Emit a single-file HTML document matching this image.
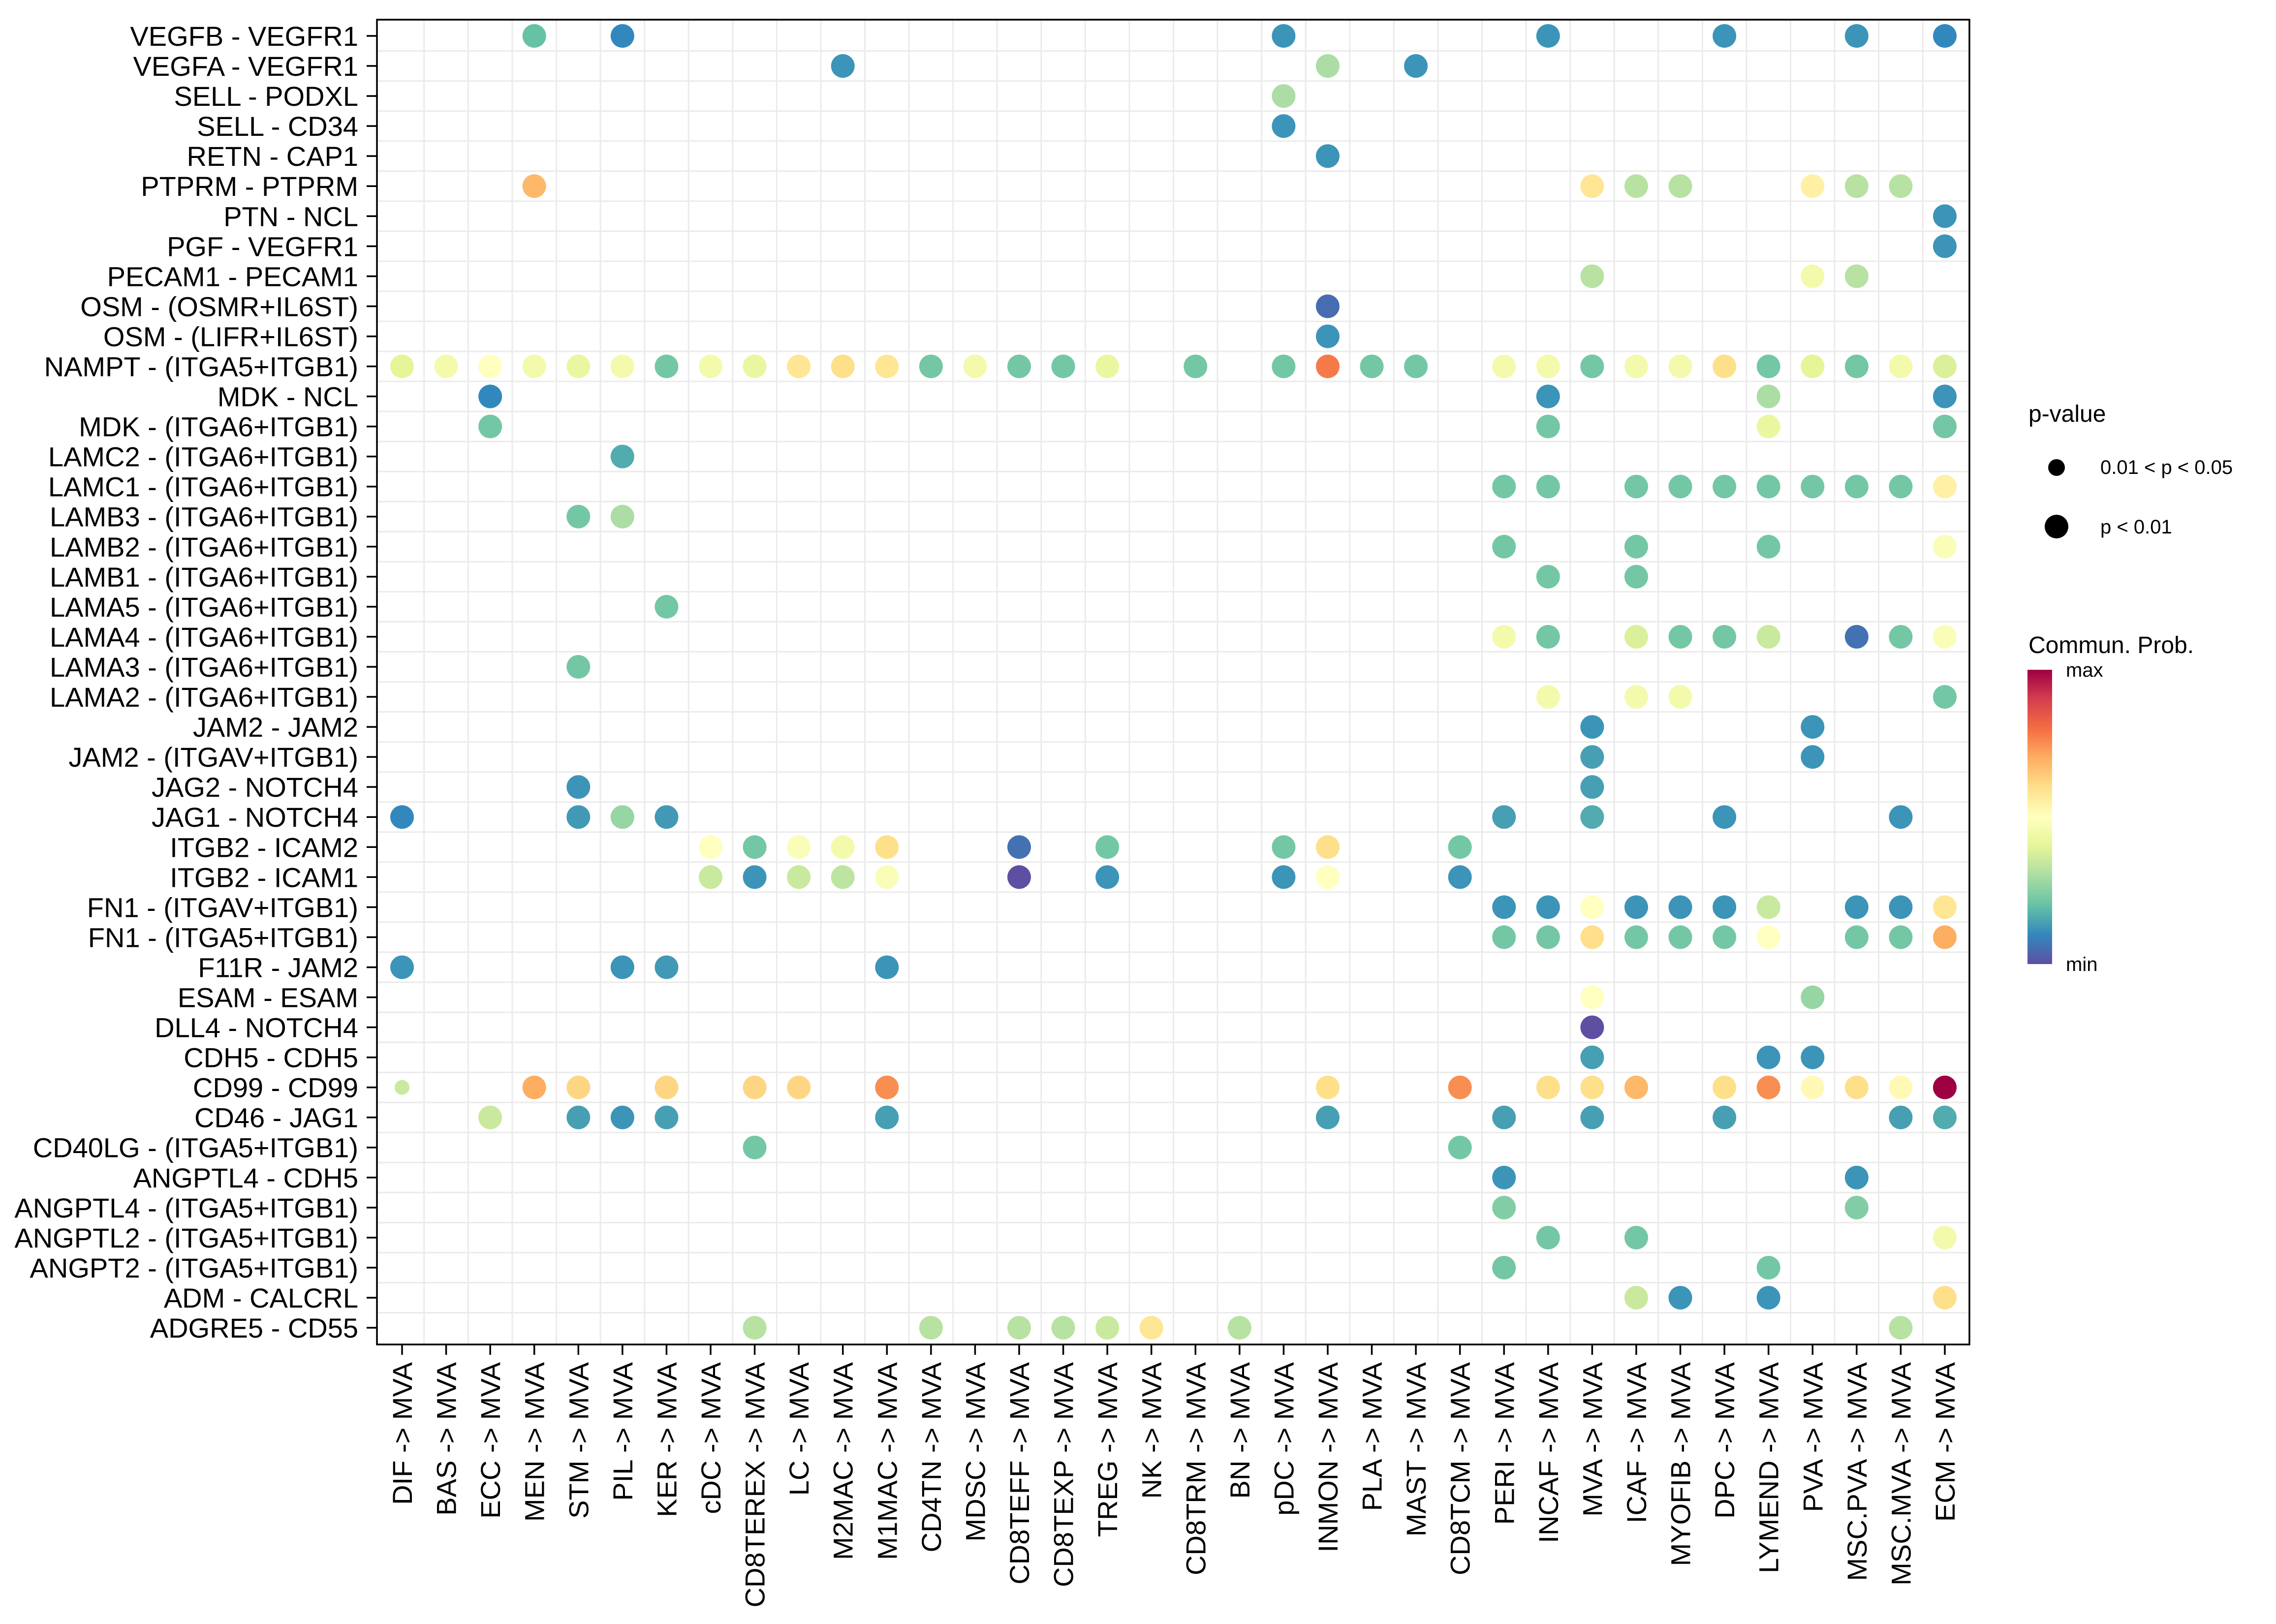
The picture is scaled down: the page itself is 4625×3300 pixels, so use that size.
<!DOCTYPE html>
<html><head><meta charset="utf-8"><style>
html,body{margin:0;padding:0;background:#fff;}
svg{display:block;font-family:"Liberation Sans",sans-serif;}
</style></head><body>
<svg id="chart" width="4625" height="3300" viewBox="0 0 4625 3300" xmlns="http://www.w3.org/2000/svg">
<defs><linearGradient id="cb" x1="0" y1="1" x2="0" y2="0">
<stop offset="0" stop-color="#5e4fa2"/><stop offset="0.1" stop-color="#3288bd"/><stop offset="0.2" stop-color="#66c2a5"/><stop offset="0.3" stop-color="#abdda4"/><stop offset="0.4" stop-color="#e6f598"/><stop offset="0.5" stop-color="#ffffbf"/><stop offset="0.6" stop-color="#fee08b"/><stop offset="0.7" stop-color="#fdae61"/><stop offset="0.8" stop-color="#f46d43"/><stop offset="0.9" stop-color="#d53e4f"/><stop offset="1" stop-color="#9e0142"/>
</linearGradient></defs>
<g id="grid"></g>
<g id="dots"></g>
<rect x="766" y="40" width="3236" height="2692" fill="none" stroke="#000" stroke-width="3.5"/>
<g id="ylab"></g>
<g id="xlab"></g>
<g>
<text x="4122" y="857" font-size="48">p-value</text>
<circle cx="4179" cy="950" r="17" fill="#000"/>
<text x="4268" y="963" font-size="40">0.01 &lt; p &lt; 0.05</text>
<circle cx="4179" cy="1070" r="24" fill="#000"/>
<text x="4268" y="1084" font-size="40">p &lt; 0.01</text>
<text x="4122" y="1327" font-size="48">Commun. Prob.</text>
<rect x="4120" y="1361" width="50" height="598" fill="url(#cb)"/>
<text x="4198" y="1375" font-size="40">max</text>
<text x="4198" y="1973" font-size="40">min</text>
</g>
</svg>
<script>
const rowLabels = ["VEGFB - VEGFR1","VEGFA - VEGFR1","SELL - PODXL","SELL - CD34","RETN - CAP1","PTPRM - PTPRM","PTN - NCL","PGF - VEGFR1","PECAM1 - PECAM1","OSM - (OSMR+IL6ST)","OSM - (LIFR+IL6ST)","NAMPT - (ITGA5+ITGB1)","MDK - NCL","MDK - (ITGA6+ITGB1)","LAMC2 - (ITGA6+ITGB1)","LAMC1 - (ITGA6+ITGB1)","LAMB3 - (ITGA6+ITGB1)","LAMB2 - (ITGA6+ITGB1)","LAMB1 - (ITGA6+ITGB1)","LAMA5 - (ITGA6+ITGB1)","LAMA4 - (ITGA6+ITGB1)","LAMA3 - (ITGA6+ITGB1)","LAMA2 - (ITGA6+ITGB1)","JAM2 - JAM2","JAM2 - (ITGAV+ITGB1)","JAG2 - NOTCH4","JAG1 - NOTCH4","ITGB2 - ICAM2","ITGB2 - ICAM1","FN1 - (ITGAV+ITGB1)","FN1 - (ITGA5+ITGB1)","F11R - JAM2","ESAM - ESAM","DLL4 - NOTCH4","CDH5 - CDH5","CD99 - CD99","CD46 - JAG1","CD40LG - (ITGA5+ITGB1)","ANGPTL4 - CDH5","ANGPTL4 - (ITGA5+ITGB1)","ANGPTL2 - (ITGA5+ITGB1)","ANGPT2 - (ITGA5+ITGB1)","ADM - CALCRL","ADGRE5 - CD55"];
const colLabels = ["DIF","BAS","ECC","MEN","STM","PIL","KER","cDC","CD8TEREX","LC","M2MAC","M1MAC","CD4TN","MDSC","CD8TEFF","CD8TEXP","TREG","NK","CD8TRM","BN","pDC","INMON","PLA","MAST","CD8TCM","PERI","INCAF","MVA","ICAF","MYOFIB","DPC","LYMEND","PVA","MSC.PVA","MSC.MVA","ECM"].map(s=>s+" -> MVA");
// each row: list of [columnIndex, communProb(0..1)]
const rowValues = [
[[3,.2],[5,.1],[20,.12],[26,.12],[30,.12],[33,.12],[35,.1]],
[[10,.12],[21,.3],[23,.12]],
[[20,.3]],
[[20,.12]],
[[21,.12]],
[[3,.68],[27,.58],[28,.32],[29,.32],[32,.55],[33,.32],[34,.32]],
[[35,.12]],
[[35,.12]],
[[27,.32],[32,.45],[33,.32]],
[[21,.05]],
[[21,.12]],
[[0,.4],[1,.45],[2,.5],[3,.45],[4,.42],[5,.45],[6,.22],[7,.45],[8,.42],[9,.58],[10,.6],[11,.58],[12,.22],[13,.45],[14,.22],[15,.22],[16,.42],[18,.22],[20,.22],[21,.78],[22,.22],[23,.22],[25,.45],[26,.45],[27,.22],[28,.45],[29,.45],[30,.6],[31,.22],[32,.4],[33,.22],[34,.45],[35,.38]],
[[2,.1],[26,.12],[31,.3],[35,.12]],
[[2,.22],[26,.22],[31,.42],[35,.22]],
[[5,.16]],
[[25,.22],[26,.22],[28,.22],[29,.22],[30,.22],[31,.22],[32,.22],[33,.22],[34,.22],[35,.55]],
[[4,.22],[5,.3]],
[[25,.22],[28,.22],[31,.22],[35,.48]],
[[26,.22],[28,.22]],
[[6,.22]],
[[25,.45],[26,.22],[28,.38],[29,.22],[30,.22],[31,.35],[33,.06],[34,.22],[35,.48]],
[[4,.22]],
[[26,.45],[28,.45],[29,.45],[35,.22]],
[[27,.12],[32,.12]],
[[27,.14],[32,.12]],
[[4,.12],[27,.14]],
[[0,.1],[4,.13],[5,.27],[6,.13],[25,.14],[27,.16],[30,.12],[34,.12]],
[[7,.5],[8,.22],[9,.48],[10,.45],[11,.6],[14,.06],[16,.22],[20,.22],[21,.6],[24,.22]],
[[7,.35],[8,.12],[9,.35],[10,.33],[11,.48],[14,0],[16,.12],[20,.12],[21,.5],[24,.12]],
[[25,.12],[26,.12],[27,.5],[28,.12],[29,.12],[30,.12],[31,.35],[33,.12],[34,.12],[35,.58]],
[[25,.22],[26,.22],[27,.6],[28,.22],[29,.22],[30,.22],[31,.5],[33,.22],[34,.22],[35,.7]],
[[0,.12],[5,.12],[6,.13],[11,.12]],
[[27,.5],[32,.27]],
[[27,0]],
[[27,.14],[31,.12],[32,.12]],
[[0,.35],[3,.7],[4,.62],[6,.62],[8,.62],[9,.62],[11,.75],[21,.6],[24,.75],[26,.6],[27,.6],[28,.68],[30,.6],[31,.75],[32,.52],[33,.6],[34,.52],[35,1]],
[[2,.35],[4,.14],[5,.12],[6,.14],[11,.14],[21,.14],[25,.14],[27,.14],[30,.14],[34,.14],[35,.16]],
[[8,.22],[24,.22]],
[[25,.12],[33,.12]],
[[25,.24],[33,.24]],
[[26,.22],[28,.22],[35,.45]],
[[25,.22],[31,.22]],
[[28,.35],[29,.12],[31,.12],[35,.6]],
[[8,.32],[12,.32],[14,.32],[15,.32],[16,.35],[17,.58],[19,.32],[34,.32]]
];
// significant only at 0.01<p<0.05 (small dots): [row, col]
const smallDots = [[35,0]];

const NS="http://www.w3.org/2000/svg";
const xPos = i => 817 + i*(3952-817)/35;
const yPos = j => 73 + j*(2698-73)/43;
const stops=["#5e4fa2","#3288bd","#66c2a5","#abdda4","#e6f598","#ffffbf","#fee08b","#fdae61","#f46d43","#d53e4f","#9e0142"];
function hex(c){return [1,3,5].map(k=>parseInt(c.substr(k,2),16));}
function color(v){v=Math.max(0,Math.min(1,v));const p=v*10,i=Math.min(9,Math.floor(p)),t=p-i;const a=hex(stops[i]),b=hex(stops[i+1]);return "rgb("+a.map((x,k)=>Math.round(x+(b[k]-x)*t)).join(",")+")";}
function mk(tag,attrs,parent){const e=document.createElementNS(NS,tag);for(const k in attrs)e.setAttribute(k,attrs[k]);parent.appendChild(e);return e;}
const grid=document.getElementById("grid"),dots=document.getElementById("dots"),ylab=document.getElementById("ylab"),xlab=document.getElementById("xlab");
rowLabels.forEach((lab,j)=>{
  if(j<rowLabels.length-1){
    const l=mk("line",{x1:766,x2:4002,y1:yPos(j+0.5),y2:yPos(j+0.5),stroke:"#ebebeb","stroke-width":3},grid);
    
    
  }
  const tk=mk("line",{x1:745,x2:766,y1:yPos(j),y2:yPos(j),stroke:"#000","stroke-width":3.5},ylab);
  
  
  const t=mk("text",{x:728,y:yPos(j)+20,"text-anchor":"end","font-size":56,fill:"#000"},ylab);
  t.textContent=lab;
  
  
});
colLabels.forEach((lab,i)=>{
  if(i<colLabels.length-1){
    const l=mk("line",{x1:xPos(i+0.5),x2:xPos(i+0.5),y1:40,y2:2732,stroke:"#ebebeb","stroke-width":3},grid);
    
    
  }
  const tk=mk("line",{x1:xPos(i),x2:xPos(i),y1:2732,y2:2753,stroke:"#000","stroke-width":3.5},xlab);
  
  
  const t=mk("text",{x:0,y:0,"text-anchor":"end","font-size":56,fill:"#000",transform:"translate("+(xPos(i)+20)+",2768) rotate(-90)"},xlab);
  t.textContent=lab;
  
  
});
rowValues.forEach((row,j)=>{
  row.forEach(([i,v])=>{
    const small=smallDots.some(s=>s[0]===j&&s[1]===i);
    const c=mk("circle",{cx:xPos(i),cy:yPos(j),r:small?15:24,fill:color(v)},dots);
    
    
  });
});
</script>
</body></html>
